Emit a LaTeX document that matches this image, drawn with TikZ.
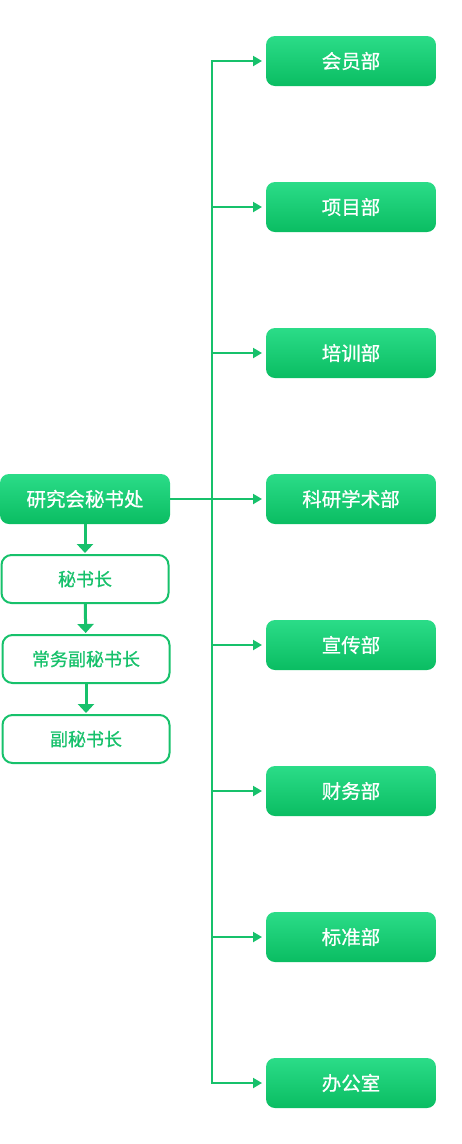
\documentclass[tikz,border=0pt]{standalone}
\usepackage{fontspec}
\newfontfamily\cjk[FakeBold=0.7]{Noto Sans CJK SC}
\usetikzlibrary{arrows,arrows.meta}
\usetikzlibrary{calc}
\definecolor{greentop}{HTML}{2BDC88}
\definecolor{greenbot}{HTML}{0ABD62}
\definecolor{greenline}{HTML}{17C16B}
\tikzset{>=latex}
\tikzstyle{dept} = [%
					rounded corners = 9pt,
					top color = greentop,
					bottom color = greenbot,
					minimum width = 170pt,
					minimum height = 50pt,
					text = white,
					font = \cjk\fontsize{19.5}{21}\selectfont]
\tikzstyle{post} = [%
					rounded corners = 10pt,
					draw = greenline,
					line width = 2pt,
					fill = white,
					minimum width = 167pt,
					minimum height = 48pt,
					text = greenline,
					font = \cjk\fontsize{18}{20}\selectfont]
\tikzstyle{branch} = [%
					line width = 2pt,
					color = greenline,
					-{Triangle[length=9pt, width=10pt]},
					shorten > = 4pt]
\tikzstyle{down} = [%
					line width = 3pt,
					color = greenline,
					-{Triangle[length=9pt, width=16pt]},
					shorten > = 2pt]

\begin{document}
\begin{tikzpicture}[x=1pt,y=-1pt,outer sep=0pt]
	\useasboundingbox (0,0) rectangle (462,1144);
	
	% Coordinates
	\coordinate (T1) at (212,61);
	\coordinate (T8) at (212,1083);
	\coordinate (T4) at (212,499);
	
	% Nodes
	%% Secretariat
	\node[dept] at (85,499) (sec) {研究会秘书处};
	\node[post] at (85,579) (p1) {秘书长};
	\node[post] at (86,659) (p2) {常务副秘书长};
	\node[post] at (86,739) (p3) {副秘书长};
	%% Departments
	\foreach \name [count=\i] in {会员部,项目部,培训部,科研学术部,宣传部,财务部,标准部,办公室}
	{
		\node[dept] at (351, 61+146*\i-146) (d\i) {\name};
		\draw[branch] (212, 61+146*\i-146) -- (d\i);
	}
	
	% Trunk
	\draw[line width=2pt, greenline, line cap=rect] (T1) -- (T8);
	\draw[line width=2pt, greenline] (sec) -- (T4);
	
	% Chain
	\draw[down] (sec) -- (p1);
	\draw[down] (p1) -- (p2);
	\draw[down] (p2) -- (p3);
\end{tikzpicture}
\end{document}
